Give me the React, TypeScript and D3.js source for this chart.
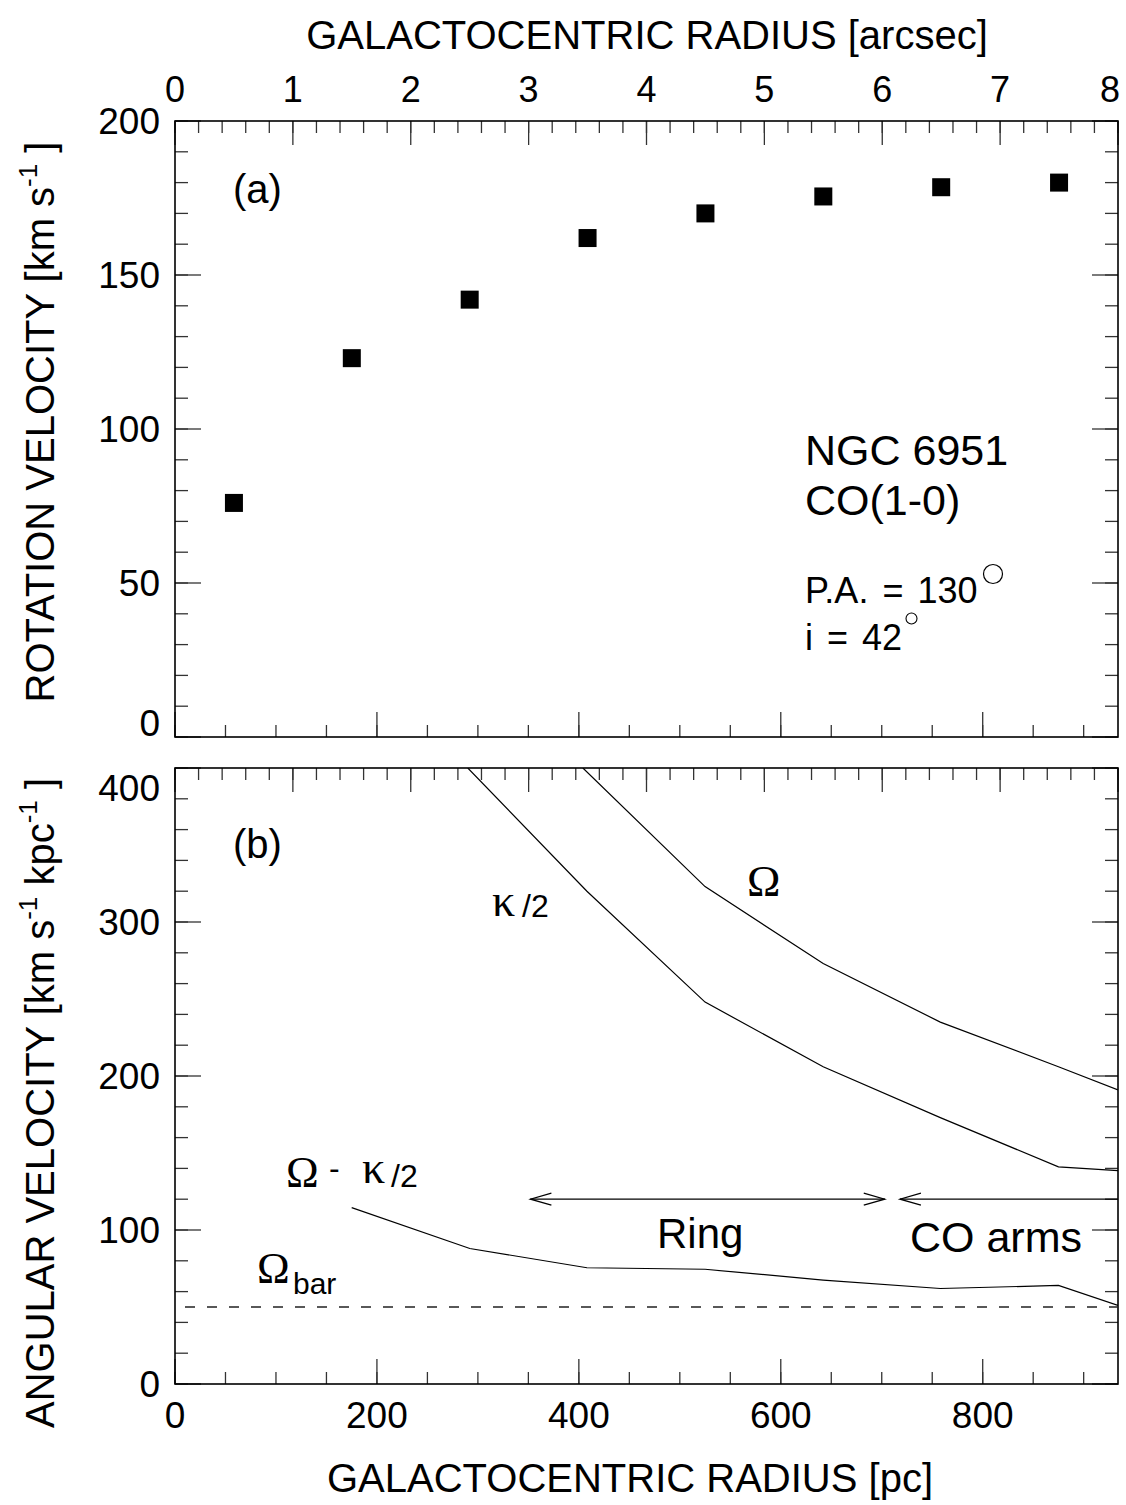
import React, { useEffect, useRef } from 'react';
import * as d3 from 'd3';

// panel (a): rotation curve, radius in arcsec
const radiusArcsec = [0.5, 1.5, 2.5, 3.5, 4.5, 5.5, 6.5, 7.5];
const rotationVelocity = [76, 123, 142, 162, 170, 175.5, 178.5, 180];

// panel (b): angular velocities, radius in pc
const omegaPc = [404, 525, 642, 758, 875, 934];
const omegaVal = [400, 323, 273, 235, 206, 191];
const kappaPc = [290, 408, 525, 642, 758, 875, 934];
const kappaVal = [400, 320, 248, 206, 173, 141, 138.5];
const diffPc = [175, 292, 408, 525, 642, 758, 875, 934];
const diffVal = [114.5, 88, 75.5, 74.5, 67.5, 62, 64, 51];
const omegaBar = 50;
const ringRange = [352, 703];
const coArmsRange = [718, 934];
const arrowLevel = 120;

// ticks
const arcsecTicks = [0, 1, 2, 3, 4, 5, 6, 7, 8];
const pcTicks = [0, 200, 400, 600, 800];
const velTicks = [0, 50, 100, 150, 200];
const angTicks = [0, 100, 200, 300, 400];
const PC_MAX = 934;

const SANS = '"Liberation Sans", Arial, Helvetica, sans-serif';
const SERIF = '"Liberation Serif", "Times New Roman", serif';

export default function App() {
  const ref = useRef<SVGSVGElement>(null);

  useEffect(() => {
    document.body.style.margin = '0';
    const svg = d3.select(ref.current);
    svg.selectAll('*').remove();

    const left = 175;
    const right = 1118;
    const topA = 121;
    const botA = 737;
    const topB = 768;
    const botB = 1384;

    const xArc = d3.scaleLinear().domain([0, 8]).range([left, right]);
    const xPc = d3.scaleLinear().domain([0, PC_MAX]).range([left, right]);
    const yVel = d3.scaleLinear().domain([0, 200]).range([botA, topA]);
    const yAng = d3.scaleLinear().domain([0, 400]).range([botB, topB]);

    const ticks = svg.append('g').attr('stroke', '#333').attr('stroke-width', 1.3);

    // horizontal axis ticks
    const xt = (scale, values, y, dir, len) => {
      ticks.selectAll(null).data(values).enter().append('line')
        .attr('x1', (d) => scale(d)).attr('x2', (d) => scale(d))
        .attr('y1', y).attr('y2', y + dir * len);
    };
    // vertical axis ticks
    const yt = (scale, values, x, dir, len) => {
      ticks.selectAll(null).data(values).enter().append('line')
        .attr('y1', (d) => scale(d)).attr('y2', (d) => scale(d))
        .attr('x1', x).attr('x2', x + dir * len);
    };

    const arcMinor = d3.range(0, 8.001, 0.2);
    const pcMinor = d3.range(0, PC_MAX, 50);

    // panel a
    xt(xArc, arcMinor, topA, 1, 12);
    xt(xArc, arcsecTicks, topA, 1, 24);
    xt(xPc, pcMinor, botA, -1, 12);
    xt(xPc, pcTicks, botA, -1, 25);
    yt(yVel, d3.range(0, 201, 10), left, 1, 13);
    yt(yVel, velTicks, left, 1, 26);
    yt(yVel, d3.range(0, 201, 10), right, -1, 13);
    yt(yVel, velTicks, right, -1, 26);

    // panel b
    xt(xArc, arcMinor, topB, 1, 12);
    xt(xArc, arcsecTicks, topB, 1, 24);
    xt(xPc, pcMinor, botB, -1, 12);
    xt(xPc, pcTicks, botB, -1, 25);
    yt(yAng, d3.range(0, 401, 20), left, 1, 13);
    yt(yAng, angTicks, left, 1, 26);
    yt(yAng, d3.range(0, 401, 20), right, -1, 13);
    yt(yAng, angTicks, right, -1, 26);

    // frames
    [[topA, botA], [topB, botB]].forEach(([t, b]) => {
      svg.append('rect')
        .attr('x', left).attr('y', t)
        .attr('width', right - left).attr('height', b - t)
        .attr('fill', 'none').attr('stroke', '#000').attr('stroke-width', 1.6);
    });

    const text = (x, y, s, size, opts: any = {}) => svg.append('text')
      .attr('x', x).attr('y', y)
      .attr('font-family', opts.family || SANS)
      .attr('font-size', size)
      .attr('text-anchor', opts.anchor || 'start')
      .attr('word-spacing', opts.ws || 0)
      .attr('fill', '#000')
      .text(s);

    // tick labels
    arcsecTicks.forEach((d) => text(Math.min(xArc(d), 1110), 102, String(d), 36, { anchor: 'middle' }));
    pcTicks.forEach((d) => text(xPc(d), 1428, String(d), 37, { anchor: 'middle' }));
    velTicks.forEach((d) => text(160, yVel(d) + 13 + (d === 0 ? -14 : 0), String(d), 37, { anchor: 'end' }));
    angTicks.forEach((d) => text(160, yAng(d) + 13 + (d === 400 ? 20 : 0), String(d), 37, { anchor: 'end' }));

    // axis titles
    text(647, 49, 'GALACTOCENTRIC RADIUS [arcsec]', 40, { anchor: 'middle' });
    text(630, 1492, 'GALACTOCENTRIC RADIUS [pc]', 40, { anchor: 'middle' });

    const yTitle = (cy, parts) => {
      const t = svg.append('text')
        .attr('transform', `translate(54,${cy}) rotate(-90)`)
        .attr('font-family', SANS).attr('font-size', 40)
        .attr('text-anchor', 'middle').attr('fill', '#000');
      parts.forEach(([s, sup]) => {
        const sp = t.append('tspan').text(s);
        if (sup) sp.attr('font-size', 26).attr('dy', -17);
        else sp.attr('dy', 17);
      });
      t.select('tspan').attr('dy', 0);
    };
    yTitle(422, [['ROTATION VELOCITY [km s', false], ['-1', true], [' ]', false]]);
    yTitle(1103, [['ANGULAR VELOCITY [km s', false], ['-1', true], [' kpc', false], ['-1', true], [' ]', false]]);

    // panel a squares
    const sq = 18;
    svg.append('g').selectAll('rect').data(radiusArcsec).enter().append('rect')
      .attr('x', (d) => xArc(d) - sq / 2)
      .attr('y', (d, i) => yVel(rotationVelocity[i]) - sq / 2)
      .attr('width', sq).attr('height', sq)
      .attr('fill', '#000');

    text(233, 203, '(a)', 40);
    text(805, 465, 'NGC 6951', 43);
    text(805, 515, 'CO(1-0)', 43);
    text(805, 603, 'P.A. = 130', 36, { ws: 4 });
    text(805, 650, 'i = 42', 36, { ws: 4 });
    svg.append('circle').attr('cx', 993).attr('cy', 574).attr('r', 9.5)
      .attr('fill', 'none').attr('stroke', '#000').attr('stroke-width', 1.2);
    svg.append('circle').attr('cx', 911.5).attr('cy', 618.5).attr('r', 5.5)
      .attr('fill', 'none').attr('stroke', '#000').attr('stroke-width', 1.1);

    // panel b curves
    svg.append('clipPath').attr('id', 'clipB').append('rect')
      .attr('x', left).attr('y', topB).attr('width', right - left).attr('height', botB - topB);
    const curves = svg.append('g').attr('clip-path', 'url(#clipB)');
    const line = d3.line<number>().curve(d3.curveLinear);
    const addCurve = (xs, ys) => {
      curves.append('path')
        .attr('d', line(xs.map((x, i) => [xPc(x), yAng(ys[i])])))
        .attr('fill', 'none').attr('stroke', '#000').attr('stroke-width', 1.2);
    };
    addCurve(omegaPc, omegaVal);
    addCurve(kappaPc, kappaVal);
    addCurve(diffPc, diffVal);

    curves.append('line')
      .attr('x1', left).attr('x2', right)
      .attr('y1', yAng(omegaBar)).attr('y2', yAng(omegaBar))
      .attr('stroke', '#222').attr('stroke-width', 1.3)
      .attr('stroke-dasharray', '10,12').attr('stroke-dashoffset', -10);

    // arrows
    const ay = yAng(arrowLevel);
    const arrows = svg.append('g').attr('fill', 'none').attr('stroke', '#000').attr('stroke-width', 1.2);
    const head = (x, dir) => arrows.append('path')
      .attr('d', `M${x + dir * 21},${ay - 6}L${x},${ay}L${x + dir * 21},${ay + 6}`);
    arrows.append('line').attr('x1', xPc(ringRange[0])).attr('x2', xPc(ringRange[1])).attr('y1', ay).attr('y2', ay);
    head(xPc(ringRange[0]), 1);
    head(xPc(ringRange[1]), -1);
    arrows.append('line').attr('x1', xPc(coArmsRange[0])).attr('x2', xPc(coArmsRange[1])).attr('y1', ay).attr('y2', ay);
    head(xPc(coArmsRange[0]), 1);

    text(233, 858, '(b)', 40);
    text(747, 896, 'Ω', 45, { family: SERIF });
    text(492, 916, 'κ', 46, { family: SERIF });
    text(522, 917, '/2', 32);
    text(286, 1187, 'Ω', 44, { family: SERIF });
    text(329, 1179, '-', 32);
    text(362, 1183, 'κ', 46, { family: SERIF });
    text(391, 1187, '/2', 32);
    text(257, 1283, 'Ω', 44, { family: SERIF });
    text(293, 1294, 'bar', 30);
    text(657, 1248, 'Ring', 42);
    text(910, 1252, 'CO arms', 43);
  }, []);

  return <svg ref={ref} width={1126} height={1505} style={{ display: 'block', background: '#fff' }} />;
}
